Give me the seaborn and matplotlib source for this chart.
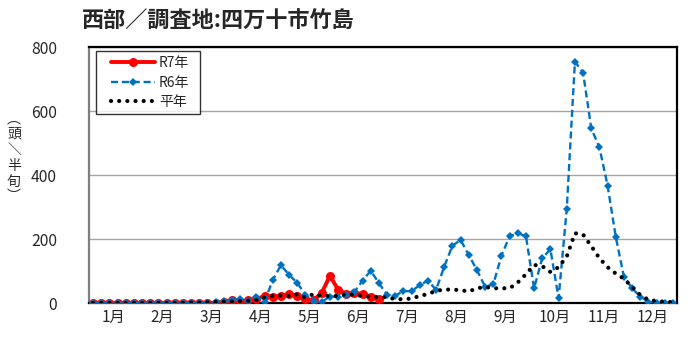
import numpy as np
import pandas as pd
import matplotlib
matplotlib.use("Agg")
import matplotlib.pyplot as plt
from matplotlib.lines import Line2D
from matplotlib.legend_handler import HandlerLine2D
import seaborn as sns

# ---- data (half-month 5-day periods: 6 per month, 72 per year) ----
months = [f"{m}月" for m in range(1, 13)]
series_names = ["R7年", "R6年", "平年"]

r7 = [0] * 16 + [3, 8, 4, 9, 12, 22, 20, 22, 28, 22, 12, 9, 32, 85, 42, 28, 32, 28, 20, 12]

r6 = [0] * 15 + [3, 6, 9, 12, 7, 20, 4, 72, 118, 88, 63, 25, 7, 4, 20, 20, 25, 35, 70,
                 101, 62, 25, 23, 37, 37, 56, 70, 41, 114, 179, 197, 150, 103, 51, 58,
                 147, 209, 218, 209, 46, 140, 168, 15, 294, 754, 720, 546, 486, 367,
                 207, 82, 46, 20, 4, 0, 0, 0]

normal = [0] * 12 + [1, 1, 2, 3, 4, 5, 6, 7, 9, 18, 22, 23, 22, 27, 17, 28, 22, 22, 22,
                     28, 25, 22, 20, 18, 18, 12, 12, 14, 22, 28, 38, 42, 42, 40, 36, 46,
                     50, 46, 46, 46, 64, 90, 119, 115, 97, 112, 145, 218, 214, 178, 140,
                     112, 92, 76, 50, 25, 10, 6, 4, 3]

title = "西部／調査地:四万十市竹島"
ylabel_chars = ["︵", "頭", "＼", "半", "旬", "︶"]

# ---- style ----
sns.set_style("white")
plt.rcParams['font.family'] = ['Noto Sans CJK JP', 'DejaVu Sans']

fig = plt.figure(figsize=(7.0, 3.51), dpi=100)
ax = fig.add_axes([89 / 700, 1 - 303 / 351, 588 / 700, 256 / 351])

df7 = pd.DataFrame({"x": np.arange(len(r7)), "y": r7})
df6 = pd.DataFrame({"x": np.arange(len(r6)), "y": r6})
dfn = pd.DataFrame({"x": np.arange(len(normal)), "y": normal})

sns.lineplot(data=df7, x="x", y="y", ax=ax, color="#FF0000", linewidth=2.8,
             marker="o", markersize=6.5, markeredgewidth=0, label=series_names[0], zorder=3)
sns.lineplot(data=df6, x="x", y="y", ax=ax, color="#0070C0", linewidth=1.7,
             linestyle=(0, (3.0, 1.6)), marker="D", markersize=4.3, markeredgewidth=0,
             label=series_names[1], zorder=4)
sns.lineplot(data=dfn, x="x", y="y", ax=ax, color="black", linewidth=3.0,
             linestyle=(0, (0.01, 1.95)), dash_capstyle="round", label=series_names[2], zorder=5)

ax.set_xlim(-0.5, 71.5)
ax.set_ylim(0, 800)
ax.set_xlabel("")
ax.set_ylabel("")

# grid
ax.set_yticks(range(0, 801, 200))
ax.yaxis.grid(True, color="#A6A6A6", linewidth=1.0)
ax.set_axisbelow(True)
ax.tick_params(axis="y", length=0, pad=23, labelsize=11.3)

# x ticks: boundaries (inward) and month labels (minor)
ax.set_xticks([6 * m - 0.5 for m in range(1, 12)])
ax.set_xticklabels([])
ax.tick_params(axis="x", which="major", direction="in", length=5, width=1.2, color="black")
ax.set_xticks([6 * m + 2.5 for m in range(12)], minor=True)
ax.set_xticklabels(months, minor=True)
ax.tick_params(axis="x", which="minor", length=0, pad=4, labelsize=11)

for side in ["top", "right", "bottom"]:
    ax.spines[side].set_color("black")
    ax.spines[side].set_linewidth(1.6)
ax.spines["left"].set_color("#7F7F7F")
ax.spines["left"].set_linewidth(1.6)

leg_h = 0.01
leg = ax.legend(loc="upper left",
                bbox_to_anchor=(7 / 588, 1 - 4 / 256 - leg_h, 104 / 588, leg_h),
                mode="expand", borderaxespad=0,
                fontsize=10, frameon=True, fancybox=False, handlelength=3.85,
                handletextpad=0.3, labelspacing=0.38, borderpad=0.38,
                handler_map={Line2D: HandlerLine2D(xpad=0.72)})
leg.get_frame().set_edgecolor("black")
leg.get_frame().set_linewidth(1.0)

fig.text(82 / 700, 1 - 21 / 351, title, fontsize=15.9, fontweight="bold", va="center", ha="left")

ys = [119, 134, 150, 166, 182, 196]
for ch, yy in zip(ylabel_chars, ys):
    fig.text(14 / 700, 1 - yy / 351, ch, fontsize=10, va="center", ha="center",
             family=["Noto Sans CJK JP", "DejaVu Sans"])

fig.savefig("out.png", dpi=100)
